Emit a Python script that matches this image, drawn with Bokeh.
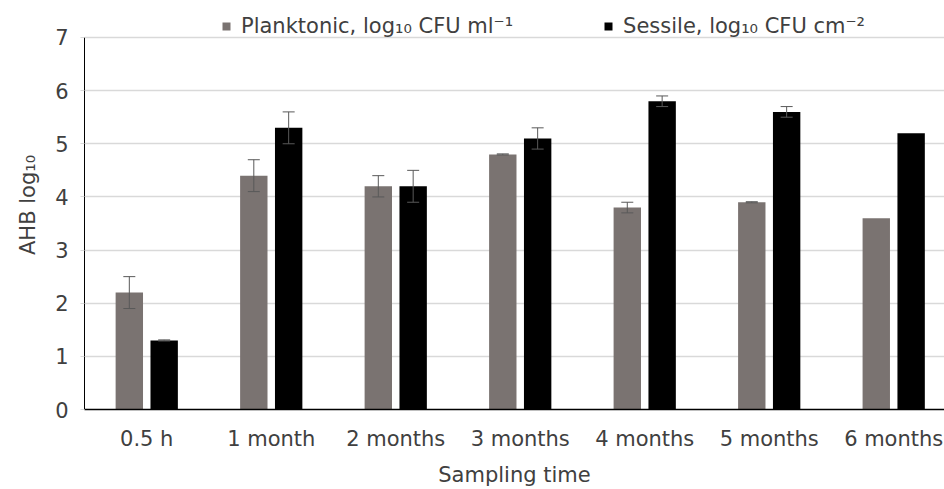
from bokeh.plotting import figure
from bokeh.models import (ColumnDataSource, Range1d, FixedTicker, Legend, LegendItem,
                          Whisker, TeeHead)
from bokeh.embed import file_html
from bokeh.resources import INLINE

categories = ["0.5 h", "1 month", "2 months", "3 months", "4 months", "5 months", "6 months"]
planktonic = [2.2, 4.4, 4.2, 4.8, 3.8, 3.9, 3.6]
planktonic_err = [0.3, 0.3, 0.2, 0.01, 0.1, 0.01, None]
sessile = [1.3, 5.3, 4.2, 5.1, 5.8, 5.6, 5.2]
sessile_err = [0.01, 0.3, 0.3, 0.2, 0.1, 0.1, None]
y_ticks = [0, 1, 2, 3, 4, 5, 6, 7]

FONT = "DejaVu Sans"
TXT = "#404040"
GRAY = "#7a7371"

idx = list(range(len(categories)))
off = 0.14
bw = 0.22

p = figure(width=944, height=489, output_backend="svg", toolbar_location=None,
           x_range=Range1d(-0.5, 6.408), y_range=Range1d(0, 7.696),
           min_border_left=84, min_border_right=0, min_border_top=0, min_border_bottom=80)
p.outline_line_color = None
p.background_fill_color = "white"

src_p = ColumnDataSource(dict(x=[i - off for i in idx], top=planktonic))
src_s = ColumnDataSource(dict(x=[i + off for i in idx], top=sessile))
rp = p.vbar(x="x", top="top", width=bw, source=src_p, fill_color=GRAY, line_color=None)
rs = p.vbar(x="x", top="top", width=bw, source=src_s, fill_color="black", line_color=None)

def err_source(vals, errs, shift):
    xs, lo, hi = [], [], []
    for i, (v, e) in enumerate(zip(vals, errs)):
        if e is None:
            continue
        xs.append(i + shift)
        lo.append(v - e)
        hi.append(v + e)
    return ColumnDataSource(dict(x=xs, lower=lo, upper=hi))

for vals, errs, shift in [(planktonic, planktonic_err, -off), (sessile, sessile_err, off)]:
    es = err_source(vals, errs, shift)
    w = Whisker(base="x", lower="lower", upper="upper", source=es, dimension="height",
                line_color="#595959", line_width=1, level="overlay",
                upper_head=TeeHead(size=12, line_color="#595959", line_width=1),
                lower_head=TeeHead(size=12, line_color="#595959", line_width=1))
    p.add_layout(w)

# axes
p.xaxis.ticker = FixedTicker(ticks=idx)
p.xaxis.major_label_overrides = {i: c for i, c in zip(idx, categories)}
p.yaxis.ticker = FixedTicker(ticks=y_ticks)
p.yaxis.bounds = (0, 7)
for ax in (p.xaxis, p.yaxis):
    ax.major_label_text_font = FONT
    ax.major_label_text_font_size = "21px"
    ax.major_label_text_color = TXT
    ax.axis_label_text_font = FONT
    ax.axis_label_text_font_size = "21px"
    ax.axis_label_text_font_style = "normal"
    ax.axis_label_text_color = TXT
    ax.minor_tick_line_color = None
    ax.major_tick_in = 0
p.xaxis.major_tick_line_color = None
p.yaxis.major_tick_out = 4
p.yaxis.major_tick_line_color = "#d9d9d9"
p.xaxis.axis_line_color = "black"
p.xaxis.axis_line_width = 1.5
p.yaxis.axis_line_color = "black"
p.yaxis.axis_line_width = 1
p.xaxis.axis_label = "Sampling time"
p.yaxis.axis_label = "AHB log₁₀"
p.xaxis.major_label_standoff = 11
p.xaxis.axis_label_standoff = 9
p.yaxis.major_label_standoff = 12
p.yaxis.axis_label_standoff = 12

p.xgrid.grid_line_color = None
p.ygrid.grid_line_color = "#d9d9d9"
p.ygrid.grid_line_width = 1.5

legend = Legend(items=[LegendItem(label="Planktonic, log₁₀ CFU ml⁻¹", renderers=[rp]),
                       LegendItem(label="Sessile, log₁₀ CFU cm⁻²", renderers=[rs])],
                orientation="horizontal", location=(137, 371),
                glyph_width=10, glyph_height=10, spacing=90, label_standoff=10,
                label_text_font=FONT, label_text_font_size="21px", label_text_color=TXT,
                border_line_color=None, background_fill_alpha=0, padding=0, margin=0)
p.add_layout(legend)

open("out.html", "w").write(file_html(p, INLINE))
